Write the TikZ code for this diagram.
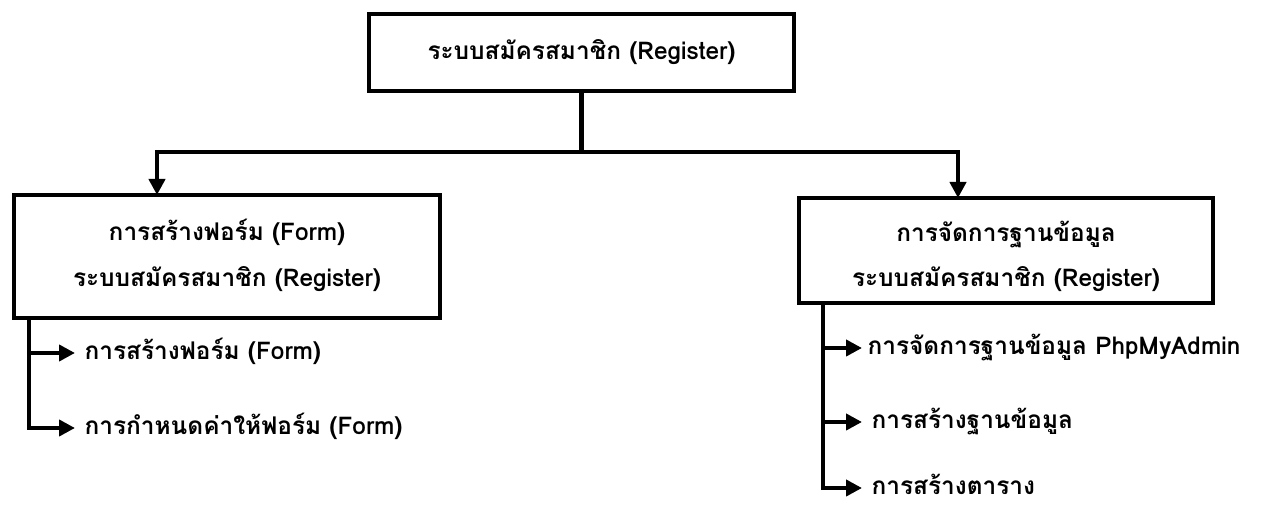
\documentclass[tikz,border=0pt]{standalone}
\usepackage{fontspec}
\newfontfamily\thaifont[Script=Thai]{Loma}
\usetikzlibrary{arrows.meta}
\begin{document}
\begin{tikzpicture}[x=0.75pt,y=-0.75pt,
  font=\thaifont\bfseries\fontsize{18.3}{22}\selectfont,
  box/.style={draw,line width=3.5pt,align=center,inner sep=0pt},
  label/.style={align=center,inner sep=0pt},
  link/.style={line width=3.5pt},
  arr/.style={line width=3.5pt,-{Triangle[length=12pt,width=12pt]}},
  item/.style={anchor=west,inner xsep=7pt,inner ysep=0pt,text height=14pt,text depth=4pt}]
\useasboundingbox (0,0) rectangle (1267,505);
% boxes
\node[box,minimum width=318.75pt,minimum height=57.75pt] (top) at (581.5,52.5)
  {ระบบสมัครสมาชิก (Register)};
\node[box,minimum width=319.5pt,minimum height=92.25pt] (left) at (227,256.5) {};
\node[label] (lefttext) at (227,255.5)
  {การสร้างฟอร์ม (Form)\\[12pt]ระบบสมัครสมาชิก (Register)};
\node[box,minimum width=310.5pt,minimum height=78.75pt] (right) at (1006,250.5) {};
\node[label] (righttext) at (1006,256.5)
  {การจัดการฐานข้อมูล\\[12pt]ระบบสมัครสมาชิก (Register)};
% branch from the top box
\coordinate (j) at (581.5,152);
\coordinate (ltip) at (157,195);
\coordinate (rtip) at (958,198);
\draw[link] (top.south) -- (j);
\draw[arr] (j) -| (ltip);
\draw[arr] (j) -| (rtip);
% left sub-items
\node[item] (lc1) at (75,353) {การสร้างฟอร์ม (Form)};
\node[item] (lc2) at (75,428) {การกำหนดค่าให้ฟอร์ม (Form)};
\coordinate (lstem) at (29,318);
\draw[arr] (lstem) |- (lc1.west);
\draw[arr] (lstem) |- (lc2.west);
% right sub-items
\node[item,inner xsep=4pt] (rc1) at (862,348) {การจัดการฐานข้อมูล PhpMyAdmin};
\node[item] (rc2) at (862,422) {การสร้างฐานข้อมูล};
\node[item] (rc3) at (862,488) {การสร้างตาราง};
\coordinate (rstem) at (823,303);
\draw[arr] (rstem) |- (rc1.west);
\draw[arr] (rstem) |- (rc2.west);
\draw[arr] (rstem) |- (rc3.west);
\end{tikzpicture}
\end{document}
